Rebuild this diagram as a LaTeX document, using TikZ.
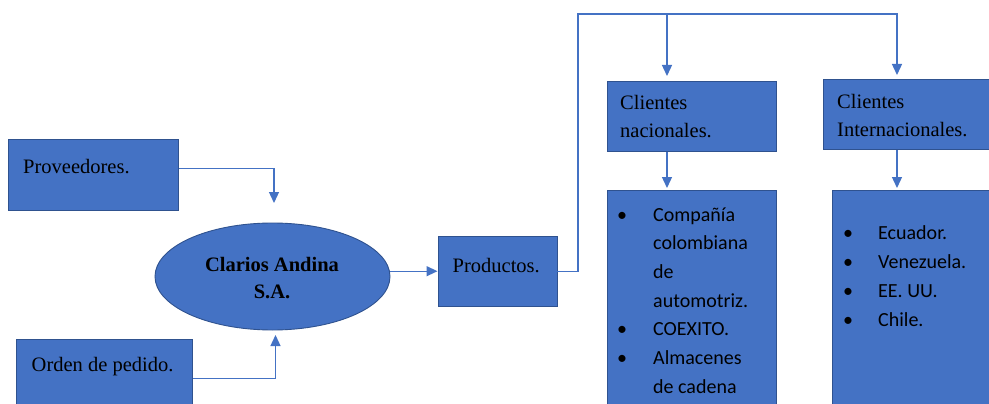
\documentclass[tikz,border=0pt]{standalone}
\usepackage{fontspec}
\setmainfont{Liberation Serif}
\newfontfamily\calib{Carlito}
\usetikzlibrary{arrows.meta,calc,shapes.geometric}
\definecolor{boxfill}{HTML}{4472C4}
\definecolor{boxline}{HTML}{2F528F}
\definecolor{conn}{HTML}{4472C4}
\tikzset{
  blockbox/.style={draw=boxline,line width=0.9pt,fill=boxfill,rectangle,inner sep=0pt,anchor=north west},
  ovalbox/.style={draw=boxline,line width=0.9pt,fill=boxfill,ellipse,inner sep=0pt,minimum width=235pt,minimum height=107pt},
  serif/.style={font=\fontsize{20.5}{27}\selectfont,text=black,inner sep=0pt,anchor=base west},
  sans/.style={font=\calib\fontsize{20}{29}\selectfont,text=black,inner sep=0pt,anchor=base west},
  bul/.style={font=\calib\fontsize{20}{29}\selectfont,text=black,inner sep=0pt,anchor=base},
  conline/.style={draw=conn,line width=1.3pt},
  conarrow/.style={conline,-{Triangle[width=10pt,length=11pt]}},
}
\begin{document}
\begin{tikzpicture}[x=1pt,y=-1pt]
\path[use as bounding box,clip] (0,0) rectangle (989,404);
\fill[white] (0,0) rectangle (989,404);

% boxes
\node[blockbox,minimum width=170pt,minimum height=71pt] (prov) at (8,139) {};
\node[blockbox,minimum width=176pt,minimum height=81pt] (orden) at (16,339) {};
\node[ovalbox] (ell) at (272.5,276.5) {};
\node[blockbox,minimum width=119pt,minimum height=70.5pt] (prod) at (437.5,235.5) {};
\node[blockbox,minimum width=169.5pt,minimum height=70pt] (nat) at (606.5,81) {};
\node[blockbox,minimum width=166pt,minimum height=70pt] (intl) at (823,79) {};
\node[blockbox,minimum width=169.5pt,minimum height=230pt] (natlist) at (606.5,190) {};
\node[blockbox,minimum width=157pt,minimum height=230pt] (intllist) at (831.5,190) {};

% texts
\node[serif] (tprov) at (23,173) {Proveedores.};
\node[serif] (torden) at (31.5,371.5) {Orden de pedido.};
\node[serif,anchor=base,font=\fontsize{20.5}{27}\selectfont\bfseries] (tell1) at (272,271.5) {Clarios Andina};
\node[serif,anchor=base,font=\fontsize{20.5}{27}\selectfont\bfseries] (tell2) at (272,298) {S.A.};
\node[serif] (tprod) at (452.5,272) {Productos.};
\node[serif] (tnat1) at (620,110) {Clientes};
\node[serif] (tnat2) at (620,137) {nacionales.};
\node[serif] (tint1) at (837,109) {Clientes};
\node[serif] (tint2) at (837,136) {Internacionales.};

% national list
\node[bul] (nb1) at (622,221) {•};
\node[sans] (n1) at (653,221) {Compañía};
\node[sans] (n2) at (653,249.7) {colombiana};
\node[sans] (n3) at (653,278.4) {de};
\node[sans] (n4) at (653,307.1) {automotriz.};
\node[bul] (nb5) at (622,335.8) {•};
\node[sans] (n5) at (653,335.8) {COEXITO.};
\node[bul] (nb6) at (622,364.5) {•};
\node[sans] (n6) at (653,364.5) {Almacenes};
\node[sans] (n7) at (653,393.2) {de cadena};

% international list
\node[bul] (ib1) at (848,239) {•};
\node[sans] (i1) at (878,239) {Ecuador.};
\node[bul] (ib2) at (848,268.3) {•};
\node[sans] (i2) at (878,268.3) {Venezuela.};
\node[bul] (ib3) at (848,297.6) {•};
\node[sans] (i3) at (878,297.6) {EE. UU.};
\node[bul] (ib4) at (848,326.9) {•};
\node[sans] (i4) at (878,326.9) {Chile.};

% connector coordinates
\coordinate (ptip) at (274,203);
\coordinate (otip) at (275.5,335);
\coordinate (tl) at (578,14);
\coordinate (tr) at (897,14);
\coordinate (nbr) at (667,14);
\coordinate (ntip) at (667,76);
\coordinate (itip) at (897,75);
\coordinate (n2tip) at (667,188);
\coordinate (i2tip) at (897,188);

% connectors
\draw[conarrow] ([yshift=6.5pt]prov.east) -| (ptip);
\draw[conarrow] ([yshift=1.5pt]orden.east) -| (otip);
\draw[conarrow] (ell.east |- prod.west) -- (prod.west);
\draw[conarrow] (prod.east) -| (tl) -- (tr) -- (itip);
\draw[conarrow] (nbr) -- (ntip);
\draw[conarrow] (nat.south -| ntip) -- (n2tip);
\draw[conarrow] (intl.south -| itip) -- (i2tip);
\end{tikzpicture}
\end{document}
